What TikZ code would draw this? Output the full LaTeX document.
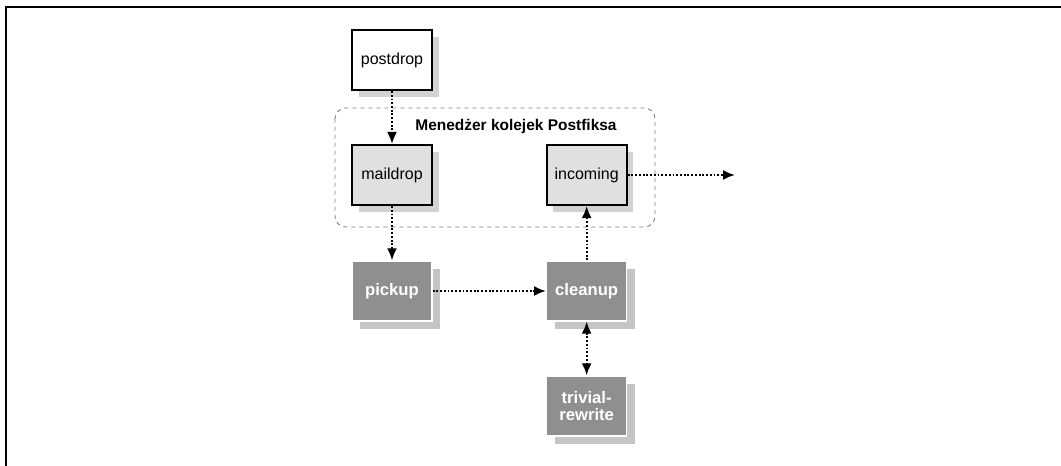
\documentclass[tikz,border=0pt]{standalone}
\usepackage{fontspec}
\setmainfont{Liberation Sans}
\usetikzlibrary{shadows}
\usetikzlibrary{arrows.meta}

\definecolor{queuegray}{gray}{0.88}
\definecolor{daemongray}{gray}{0.56}

\tikzset{
  queue/.style={draw=black, line width=1.6pt, fill=queuegray, minimum width=60pt,
                minimum height=45pt, font=\fontsize{12}{13}\selectfont,
                drop shadow={shadow xshift=5pt, shadow yshift=-5pt, fill=gray!70}},
  daemon/.style={draw=white, line width=1pt, fill=daemongray, text=white,
                 minimum width=60pt, minimum height=45pt, align=center,
                 font=\fontsize{12.5}{12.5}\selectfont\bfseries,
                 drop shadow={shadow xshift=6pt, shadow yshift=-6pt, fill=gray!90}},
  flow/.style={line width=1.5pt, dash pattern=on 1.4pt off 1.4pt,
               -{Latex[length=9pt,width=7.5pt]}},
  flowboth/.style={flow, {Latex[length=9pt,width=7.5pt]}-{Latex[length=9pt,width=7.5pt]}},
}

\begin{document}
\begin{tikzpicture}
\useasboundingbox (0,0) rectangle (795.75pt,-349.5pt);

  % page frame
  \draw[line width=1.5pt] (4.5pt,-349.5pt) -- (4.5pt,-5.6pt) -- (795.75pt,-5.6pt);

  % queue manager
  \draw[dashed, gray, line width=0.7pt, rounded corners=8pt]
       (251.25pt,-81pt) rectangle (491.25pt,-170.25pt);
  \node[font=\fontsize{11.6}{13}\selectfont\bfseries] (title) at (387pt,-95.25pt)
       {Menedżer kolejek Postfiksa};

  % queues
  \node[queue, fill=white] (postdrop) at (294pt,-45pt)     {postdrop};
  \node[queue]             (maildrop) at (294pt,-131.25pt) {maildrop};
  \node[queue]             (incoming) at (440pt,-131.25pt) {incoming};

  % daemons
  \node[daemon] (pickup)  at (294pt,-218.25pt) {pickup};
  \node[daemon] (cleanup) at (440pt,-218.25pt) {cleanup};
  \node[daemon] (trivial) at (440pt,-304.5pt)  {trivial-\\rewrite};

  \coordinate (out) at (551.25pt,-131.25pt);

  % message flow
  \draw[flow] (postdrop) -- (maildrop);
  \draw[flow] (maildrop) -- (pickup);
  \draw[flow] (pickup)   -- (cleanup);
  \draw[flow] (cleanup)  -- (incoming);
  \draw[flow] (incoming) -- (out);
  \draw[flowboth] (cleanup) -- (trivial);

\end{tikzpicture}
\end{document}
